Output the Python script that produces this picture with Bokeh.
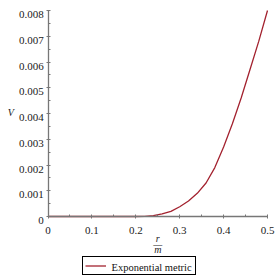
from bokeh.plotting import figure
from bokeh.models import FixedTicker, Label, Legend, LegendItem, Range1d
from bokeh.core.properties import value
from bokeh.embed import file_html
from bokeh.resources import INLINE

# data
r_vals = [0.0, 0.05, 0.1, 0.15, 0.2, 0.22, 0.24, 0.26, 0.28, 0.30, 0.32, 0.34,
          0.36, 0.38, 0.40, 0.42, 0.44, 0.46, 0.48, 0.50]
v_vals = [0.0, 0.0, 0.0, 0.0, 0.0, 0.000005, 0.00003, 0.0001, 0.0002, 0.00038,
          0.0006, 0.0009, 0.0013, 0.0019, 0.0027, 0.0036, 0.0046, 0.0057, 0.0068, 0.008]
x_ticks = [0, 0.1, 0.2, 0.3, 0.4, 0.5]
x_tick_labels = ["0", "0.1", "0.2", "0.3", "0.4", "0.5"]
x_minor = [0.05, 0.15, 0.25, 0.35, 0.45]
y_ticks = [0, 0.001, 0.002, 0.003, 0.004, 0.005, 0.006, 0.007, 0.008]
y_tick_labels = ["0", "0.001", "0.002", "0.003", "0.004", "0.005", "0.006", "0.007", "0.008"]
y_minor = [0.0005, 0.0015, 0.0025, 0.0035, 0.0045, 0.0055, 0.0065, 0.0075]
series_name = "Exponential metric"

SERIF = "Liberation Serif"
CURVE = "#a3222f"
AXIS = "#777777"
TXT = "#1a1a1a"

# frame covers the whole canvas; axes are pinned at the data origin
XPX = 439.0      # pixels per unit r/m
YPX = 25750.0    # pixels per unit V
x0_px, y0_px = 47.5, 216.0
W = H = 278
x_range = Range1d(-x0_px / XPX, (W - x0_px) / XPX)
y_range = Range1d(-(H - y0_px) / YPX, y0_px / YPX)

p = figure(width=W, height=H, output_backend="svg", toolbar_location=None,
           x_range=x_range, y_range=y_range, min_border=0)
p.outline_line_color = None
p.xgrid.visible = False
p.ygrid.visible = False
p.background_fill_color = "white"
p.border_fill_color = "white"

r = p.line(r_vals, v_vals, line_color=CURVE, line_width=1.3)

for ax, ticks, minor in ((p.xaxis[0], x_ticks, x_minor), (p.yaxis[0], y_ticks, y_minor)):
    ax.ticker = FixedTicker(ticks=ticks, minor_ticks=minor)
    ax.major_label_overrides = {t: "" for t in ticks}   # labels drawn below in serif
    ax.bounds = (ticks[0], ticks[-1])
    ax.fixed_location = 0
    ax.axis_line_color = AXIS
    ax.axis_line_width = 1.3
    ax.major_tick_line_color = AXIS
    ax.minor_tick_line_color = AXIS
    ax.major_tick_in = 2
    ax.major_tick_out = 2
    ax.minor_tick_in = 2
    ax.minor_tick_out = 0

# tick labels (serif), placed through the data scales
p.text(x=x_ticks, y=[0] * len(x_ticks), text=x_tick_labels, y_offset=13.5,
       text_align="center", text_baseline="alphabetic", text_font=value(SERIF),
       text_font_size="11px", text_color=TXT)
p.text(x=[0] * len(y_ticks), y=y_ticks, text=y_tick_labels, x_offset=-4.2, y_offset=4,
       text_align="right", text_baseline="alphabetic", text_font=value(SERIF),
       text_font_size="11px", text_color=TXT)

lab = dict(text_font=SERIF, text_align="center", text_baseline="middle", text_color=TXT)
# y axis label "V"
p.add_layout(Label(x=-0.085, y=0.00405, text="V", text_font_style="italic",
                   text_font_size="10px", **lab))
# x axis label r / m as a fraction
p.add_layout(Label(x=0.25, y=-0.00087, text="r", text_font_style="italic",
                   text_font_size="10px", **lab))
p.add_layout(Label(x=0.25, y=-0.00106, text="\u2014", text_font_size="9px", **lab))
p.add_layout(Label(x=0.25, y=-0.00130, text="m", text_font_style="italic",
                   text_font_size="10px", **lab))

# legend box with line sample; its text is drawn in serif (transparent box shows it)
legend = Legend(items=[LegendItem(label=" ", renderers=[r])],
                location=(82, 3), orientation="vertical",
                border_line_color="black", border_line_width=1, border_line_alpha=1,
                background_fill_alpha=0,
                padding=2, margin=0, spacing=0, label_standoff=6,
                glyph_width=21, glyph_height=13, label_height=13, label_width=81,
                label_text_font_size="11px")
p.add_layout(legend, "center")
p.add_layout(Label(x=(111 - x0_px) / XPX, y=(y0_px - 266.5) / YPX, text=series_name,
                   text_font=SERIF, text_font_size="10.5px", text_align="left",
                   text_baseline="middle", text_color="#111111"))

open("out.html", "w").write(file_html(p, INLINE))
